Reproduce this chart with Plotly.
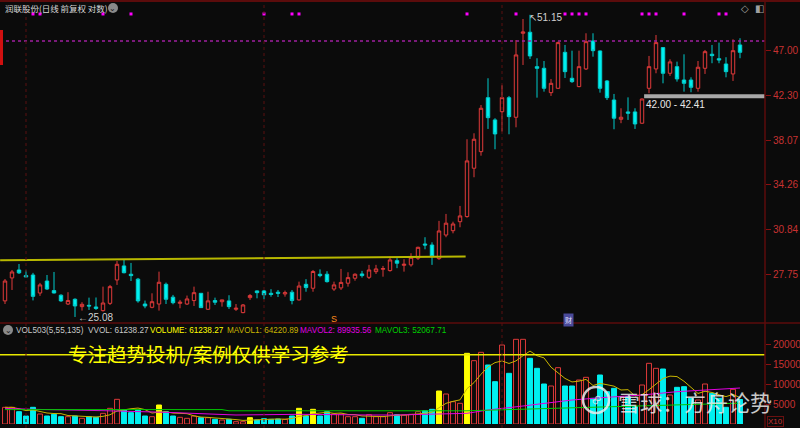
import math
import pandas as pd
import plotly.graph_objects as go

# ---------------- data ----------------
idx = list(range(106))
opens = [26.05, 27.50, 28.02, 27.66, 27.69, 26.54, 27.30, 26.69, 26.40, 25.86,
         26.15, 25.70, 25.78, 25.68, 25.46, 25.90, 27.37, 28.29, 27.74, 27.42,
         25.86, 25.66, 25.86, 27.09, 26.28, 25.90, 25.86, 26.07, 26.52, 25.54,
         26.07, 26.00, 26.05, 25.54, 25.34, 26.25, 26.67, 26.67, 26.52, 26.59,
         26.48, 26.59, 26.11, 27.09, 26.84, 27.74, 27.74, 26.79, 26.86, 27.16,
         27.48, 27.76, 27.54, 27.91, 28.07, 27.98, 28.64, 28.33, 28.36, 28.81,
         29.79, 29.72, 28.78, 30.43, 30.74, 31.40, 31.78, 35.62, 37.04, 42.07,
         39.92, 40.70, 42.07, 40.17, 48.97, 49.09, 45.26, 45.09, 42.57, 43.01,
         46.82, 44.04, 43.18, 45.02, 48.09, 46.97, 43.76, 41.84, 39.98, 40.68,
         40.68, 39.61, 43.01, 45.02, 47.34, 44.56, 45.26, 43.86, 43.86, 43.01,
         45.09, 46.61, 46.12, 45.55, 44.49, 47.64]
highs = [27.43, 28.02, 28.42, 27.99, 27.83, 27.18, 27.69, 27.89, 26.46, 26.59,
         26.21, 25.97, 26.25, 26.26, 26.94, 27.05, 28.62, 28.69, 28.49, 27.50,
         26.07, 26.52, 27.91, 27.20, 26.42, 26.11, 26.38, 26.94, 26.54, 26.62,
         26.25, 26.12, 26.40, 25.86, 25.86, 26.48, 26.70, 26.73, 26.78, 26.73,
         26.69, 26.73, 27.26, 27.42, 28.02, 28.06, 27.94, 27.26, 28.09, 27.87,
         27.80, 27.96, 28.36, 28.36, 28.29, 28.92, 28.81, 28.74, 29.15, 29.60,
         30.27, 29.91, 31.46, 31.98, 31.40, 32.59, 38.14, 38.68, 41.35, 44.04,
         40.08, 43.35, 42.24, 48.20, 50.65, 51.15, 46.17, 45.87, 43.96, 48.01,
         47.64, 47.00, 47.00, 48.97, 48.97, 47.02, 43.86, 42.44, 41.03, 42.10,
         41.03, 41.99, 46.42, 48.77, 47.40, 46.06, 45.80, 46.60, 44.14, 45.87,
         47.08, 47.64, 47.90, 46.28, 48.28, 48.40]
lows = [25.86, 26.73, 27.76, 27.53, 26.08, 26.36, 26.73, 26.51, 25.99, 25.80,
        25.08, 25.46, 25.50, 25.50, 25.40, 25.80, 27.05, 27.80, 27.30, 25.94,
        25.60, 25.60, 25.46, 25.86, 25.84, 25.60, 25.80, 25.74, 25.62, 25.50,
        25.80, 25.70, 25.56, 25.44, 25.30, 26.11, 26.21, 26.15, 26.31, 26.29,
        26.31, 25.84, 26.07, 26.62, 26.62, 27.54, 27.20, 26.67, 26.73, 26.94,
        27.32, 27.52, 27.43, 27.76, 27.58, 27.91, 28.14, 27.91, 28.24, 28.69,
        29.42, 28.36, 28.69, 30.27, 30.55, 30.99, 31.70, 34.87, 36.69, 39.08,
        37.25, 38.83, 38.59, 39.23, 45.44, 46.09, 42.07, 42.67, 42.24, 42.96,
        44.07, 43.56, 43.12, 44.91, 46.34, 42.57, 41.84, 39.05, 39.61, 39.92,
        39.08, 39.56, 42.51, 44.56, 43.52, 44.28, 43.69, 42.67, 42.61, 42.67,
        44.49, 45.63, 45.63, 44.14, 43.76, 46.17]
closes = [27.30, 27.89, 27.83, 27.56, 26.33, 27.05, 26.79, 26.54, 26.05, 26.07,
          25.74, 25.84, 25.74, 25.59, 25.92, 26.94, 28.40, 27.84, 27.65, 26.05,
          25.74, 26.00, 27.22, 26.15, 25.94, 25.97, 26.17, 26.56, 25.64, 26.05,
          25.97, 26.11, 25.70, 25.60, 25.80, 26.38, 26.56, 26.42, 26.45, 26.52,
          26.56, 26.07, 26.98, 26.88, 27.92, 27.65, 27.26, 27.05, 27.21, 27.52,
          27.74, 27.65, 28.02, 28.09, 28.11, 28.69, 28.47, 28.40, 28.87, 29.56,
          29.72, 28.92, 30.72, 31.29, 31.23, 31.83, 36.24, 38.14, 41.03, 40.13,
          38.62, 42.07, 40.23, 46.53, 49.12, 46.42, 45.09, 43.01, 43.52, 47.90,
          44.73, 43.69, 45.26, 48.01, 47.00, 43.01, 42.07, 40.08, 40.17, 40.56,
          39.54, 41.94, 45.26, 47.90, 44.56, 45.77, 43.97, 43.52, 43.11, 45.20,
          46.89, 46.45, 45.98, 44.73, 47.00, 46.82]
volumes = [4170, 4170, 3080, 2000, 4170, 2500, 2000, 2420, 1830, 1830,
           2000, 1420, 1830, 1670, 2670, 3920, 6170, 3500, 2830, 3500,
           2000, 1830, 4750, 3080, 2000, 1670, 1420, 2000, 1580, 1580,
           1170, 1000, 1170, 580, 580, 1580, 1000, 1330, 1170, 1250,
           1170, 2000, 3920, 2000, 3670, 2000, 3080, 2500, 2500, 1830,
           1830, 1420, 2330, 1830, 1830, 2830, 2330, 2250, 2420, 3080,
           3330, 3670, 8250, 7500, 5580, 5170, 17670, 15830, 17920, 14750,
           10580, 19750, 12670, 21170, 21170, 16420, 13920, 10000, 9500, 14080,
           9500, 9500, 11000, 11670, 6420, 12250, 8080, 8920, 6830, 6830,
           4330, 9750, 15170, 13920, 13750, 7250, 9170, 9330, 6420, 6000,
           10000, 7670, 6420, 4170, 8670, 6124]
yellow_vol_idx = [22, 35, 42, 44, 62, 66]
signal_idx = [4, 5, 14, 18, 37, 41, 42, 66, 73, 80, 81, 82, 83, 91, 92, 93, 97, 102, 103]
signal_level = 51.25
mavol2_idx = [0, 4, 14, 23, 33, 42, 52, 56, 66, 69, 74, 81, 86, 91, 96, 100, 105]
mavol2_val = [3900, 3670, 3330, 2920, 2250, 2420, 2250, 2250, 2670, 3500, 4500, 6000,
              6670, 7250, 8080, 8500, 8994]
mavol3_idx = [0, 31, 32, 66, 80, 95, 105]
mavol3_val = [3600, 3600, 3300, 3300, 4000, 4700, 5207]
support_idx = [-0.7, 65.8]
support_val = [28.67, 28.93]
resist_level = 48.09
zone_low, zone_high = 42.00, 42.41
zone_start = 91.3
vol_level = 17300
month_idx = [3, 37, 71]
price_ticks = [27.75, 30.84, 34.26, 38.07, 42.30, 47.00]
vol_ticks = [5000, 10000, 15000, 20000]
high_label, high_idx = 51.15, 74.6
low_label, low_idx = 25.08, 10.1

# ---------------- style ----------------
W, H = 800, 428
BG = "#0b0b0b"
RED = "#e03a3a"
CYAN = "#00f0f0"
CYAN_LINE = "#00cccc"
YELLOW = "#ffff00"
AXRED = "#5c0c0c"
LBLRED = "#c83232"
XR = [-0.714, 108.57]
XDOM = [0, 765 / W]


def py(px):
    return 1 - px / H


fig = go.Figure()

fig.add_trace(go.Candlestick(
    x=idx, open=opens, high=highs, low=lows, close=closes,
    increasing=dict(line=dict(color=RED, width=1), fillcolor=BG),
    decreasing=dict(line=dict(color=CYAN_LINE, width=1), fillcolor=CYAN),
    whiskerwidth=0, xaxis="x", yaxis="y", hoverinfo="skip"))

fig.add_trace(go.Scatter(
    x=signal_idx, y=[signal_level] * len(signal_idx), mode="markers",
    marker=dict(symbol="square", size=3, color="#ff00ff"),
    xaxis="x", yaxis="y", hoverinfo="skip"))

fig.add_trace(go.Scatter(
    x=support_idx, y=support_val, mode="lines",
    line=dict(color="#b8b800", width=2), xaxis="x", yaxis="y", hoverinfo="skip"))

bar_fill, bar_line = [], []
for i in idx:
    if i in yellow_vol_idx:
        bar_fill.append(YELLOW); bar_line.append(YELLOW)
    elif closes[i] >= opens[i]:
        bar_fill.append(BG); bar_line.append(RED)
    else:
        bar_fill.append(CYAN); bar_line.append(CYAN)

fig.add_trace(go.Bar(
    x=idx, y=volumes, width=0.7,
    marker=dict(color=bar_fill, line=dict(color=bar_line, width=1)),
    xaxis="x2", yaxis="y2", hoverinfo="skip"))

mavol1 = pd.Series(volumes).rolling(5, min_periods=1).mean().tolist()
fig.add_trace(go.Scatter(x=idx, y=mavol1, mode="lines",
                         line=dict(color="#c8b400", width=1),
                         xaxis="x2", yaxis="y2", hoverinfo="skip"))
fig.add_trace(go.Scatter(x=mavol2_idx, y=mavol2_val, mode="lines",
                         line=dict(color="#e000e0", width=1),
                         xaxis="x2", yaxis="y2", hoverinfo="skip"))
fig.add_trace(go.Scatter(x=mavol3_idx, y=mavol3_val, mode="lines",
                         line=dict(color="#00c800", width=1),
                         xaxis="x2", yaxis="y2", hoverinfo="skip"))

shapes = []
shapes.append(dict(type="line", xref="x", yref="y", x0=XR[0], x1=XR[1],
                   y0=resist_level, y1=resist_level,
                   line=dict(color="#a020a0", width=1.5, dash="dot")))
shapes.append(dict(type="rect", xref="x", yref="y", x0=zone_start, x1=XR[1],
                   y0=zone_low, y1=zone_high, fillcolor="#a8a8a8", line=dict(width=0)))
shapes.append(dict(type="line", xref="x2", yref="y2", x0=XR[0], x1=XR[1],
                   y0=vol_level, y1=vol_level, line=dict(color="#e8e800", width=1.5)))
for m in month_idx:
    shapes.append(dict(type="line", xref="x", yref="paper", x0=m, x1=m, y0=0, y1=1,
                       line=dict(color="#5a1010", width=1, dash="dot")))
shapes.append(dict(type="line", xref="paper", yref="paper", x0=0, x1=1,
                   y0=py(1), y1=py(1), line=dict(color=AXRED, width=2)))
shapes.append(dict(type="line", xref="paper", yref="paper", x0=0, x1=1,
                   y0=py(323), y1=py(323), line=dict(color=AXRED, width=1.5)))
shapes.append(dict(type="line", xref="paper", yref="paper", x0=XDOM[1], x1=XDOM[1],
                   y0=0, y1=1, line=dict(color=AXRED, width=1.5)))
shapes.append(dict(type="rect", xref="paper", yref="paper", x0=0, x1=3 / W,
                   y0=py(65), y1=py(30), fillcolor="#d01010", line=dict(width=0)))
for cx, cy in [(113, 8), (8, 330)]:
    shapes.append(dict(type="circle", xref="paper", yref="paper",
                       x0=(cx - 5) / W, x1=(cx + 5) / W, y0=py(cy + 5), y1=py(cy - 5),
                       fillcolor="#8a8a8a", line=dict(width=0)))
shapes.append(dict(type="circle", xref="paper", yref="paper",
                   x0=583 / W, x1=609 / W, y0=py(413), y1=py(387),
                   line=dict(color="rgba(235,235,235,0.85)", width=2.5)))

ann = []


def pa(x, y, text, font, xanchor="center", yanchor="middle", **kw):
    d = dict(x=x / W, y=py(y), xref="paper", yref="paper", text=text, showarrow=False,
             xanchor=xanchor, yanchor=yanchor, font=font)
    d.update(kw)
    ann.append(d)


pa(3, 8, "润联股份(日线\u2009前复权\u2009对数)",
   dict(family="Noto Sans CJK SC", size=8.5, color="#d8d8d8"), xanchor="left")
for cx, cy in [(113, 8), (8, 330)]:
    pa(cx, cy, "⌄", dict(family="DejaVu Sans", size=8, color="#1a1a1a"))
pa(745, 8, "◇", dict(family="DejaVu Sans", size=10, color="#a0a0a0"))
pa(759, 8, "◧", dict(family="DejaVu Sans", size=10, color="#a0a0a0"))

vol_parts = [
    (14, "VOL503(5,55,135)", "#c8c8c8"),
    (86, "VVOL: 61238.27", "#c8c8c8"),
    (148, "VOLUME: 61238.27", "#ffff00"),
    (225, "MAVOL1: 64220.89", "#c8b400"),
    (298, "MAVOL2: 89935.56", "#e000e0"),
    (373, "MAVOL3: 52067.71", "#00d000"),
]
for xp, t, c in vol_parts:
    pa(xp, 330.5, t, dict(family="Liberation Sans", size=8.2, color=c), xanchor="left")

pa(208, 353.5, "专注趋势投机/案例仅供学习参考",
   dict(family="Noto Sans CJK SC", size=19.5, color="#ffff00"))
pa(695, 400.5, "雪球：方舟论势",
   dict(family="Noto Sans CJK SC", size=22, color="rgba(235,235,235,0.85)"))
pa(596, 400, "∞", dict(family="DejaVu Sans", size=15, color="rgba(235,235,235,0.85)"),
   textangle=-50)

ann.append(dict(x=high_idx, y=math.log10(50.85), xref="x", yref="y", xanchor="left",
                yanchor="middle", text="↖" + f"{high_label:.2f}", showarrow=False,
                font=dict(family="Liberation Sans", size=10, color="#d0d0d0")))
ann.append(dict(x=low_idx, y=math.log10(25.04), xref="x", yref="y", xanchor="left",
                yanchor="middle", text="←" + f"{low_label:.2f}", showarrow=False,
                font=dict(family="Liberation Sans", size=10, color="#d0d0d0")))
ann.append(dict(x=zone_start, y=math.log10(41.40), xref="x", yref="y", xanchor="left",
                yanchor="middle", text=f"{zone_low:.2f} - {zone_high:.2f}", showarrow=False,
                font=dict(family="Liberation Sans", size=10, color="#e8e8e8")))
ann.append(dict(x=47, y=py(319), xref="x", yref="paper", xanchor="center", yanchor="middle",
                text="S", showarrow=False,
                font=dict(family="Liberation Sans", size=9, color="#ff8c1a")))
ann.append(dict(x=80.5, y=py(320), xref="x", yref="paper", xanchor="center", yanchor="middle",
                text="财", showarrow=False, bgcolor="#4a4a9a",
                font=dict(family="Noto Sans CJK SC", size=7, color="#e0e0ff")))
pa(767, 421, "X10", dict(family="Liberation Sans", size=8, color=LBLRED), xanchor="left",
   bordercolor="#6b1010", borderwidth=1, borderpad=0)

fig.update_layout(
    width=W, height=H, margin=dict(l=0, r=0, t=0, b=0),
    paper_bgcolor=BG, plot_bgcolor=BG, showlegend=False,
    shapes=shapes, annotations=ann, bargap=0, hovermode=False,
    xaxis=dict(domain=XDOM, range=XR, anchor="y", visible=False,
               rangeslider=dict(visible=False), showgrid=False, zeroline=False),
    xaxis2=dict(domain=XDOM, range=XR, anchor="y2", matches="x", visible=False,
                showgrid=False, zeroline=False),
    yaxis=dict(type="log", domain=[py(322), py(4)],
               range=[math.log10(24.785), math.log10(52.47)],
               side="right", anchor="x", tickvals=price_ticks,
               ticktext=[f"{v:.2f}" for v in price_ticks],
               tickfont=dict(family="Liberation Sans", size=10, color=LBLRED),
               ticks="outside", ticklen=5, tickcolor="#8b1010",
               showgrid=False, zeroline=False, showline=False),
    yaxis2=dict(domain=[py(424), py(337)], range=[0, 21750], side="right", anchor="x2",
                tickvals=vol_ticks, ticktext=[str(v) for v in vol_ticks],
                tickfont=dict(family="Liberation Sans", size=10, color=LBLRED),
                ticks="outside", ticklen=5, tickcolor="#8b1010",
                showgrid=False, zeroline=False, showline=False),
)

fig.write_html("out.html", config={"displayModeBar": False, "staticPlot": True},
               post_script="document.body.style.margin='0';document.body.style.overflow='hidden';")
